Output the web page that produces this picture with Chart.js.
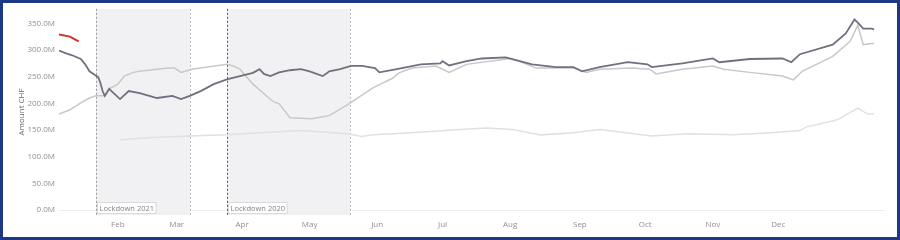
<!DOCTYPE html>
<html>
<head>
<meta charset="utf-8">
<script src="https://cdn.jsdelivr.net/npm/chart.js@4"></script>
<style>
  html, body { margin: 0; padding: 0; background: #fff; }
  #wrap { position: relative; width: 900px; height: 240px; }
  #frame { position: absolute; left: 0; top: 0; width: 900px; height: 240px; box-sizing: border-box; border: 3px solid #1c3786; pointer-events: none; }
</style>
</head>
<body>
<div id="wrap">
  <canvas id="c" width="900" height="240"></canvas>
  <div id="frame"></div>
</div>
<script>
// x = day of the year, y = amount in M CHF

const monthLabels = ['Feb', 'Mar', 'Apr', 'May', 'Jun', 'Jul', 'Aug', 'Sep', 'Oct', 'Nov', 'Dec']
const monthDays = [27, 54, 84, 115, 146, 176, 207, 239, 269, 300, 330]
const yTicks = [0, 50, 100, 150, 200, 250, 300, 350]

const lockNames = ['Lockdown 2021', 'Lockdown 2020']
const lockStart = [17, 77]
const lockEnd = [60, 133.5]

// dark line (2021)
const darkDays = [0, 3, 6, 10, 12, 14, 16.5, 18, 19, 20, 21, 23, 28, 32, 37, 45, 52, 56, 60, 65, 71, 77, 83, 89, 92, 94, 97, 101, 106, 111, 115, 121, 123, 124, 129, 134, 139, 145, 147, 155, 166, 175, 176, 179, 187, 194, 205, 208, 217, 228, 236, 240, 248, 261, 270, 272, 286, 300, 303, 317, 332, 336, 340, 355, 361, 365, 366.5, 369, 373, 374]
const darkVals = [299, 294, 290, 283, 273, 260, 253, 249, 238, 223, 214, 227, 208, 223, 219, 210, 214, 208, 214, 223, 236, 245, 251, 257, 264, 255, 251, 258, 262, 264, 260, 251, 257, 260, 264, 270, 270, 266, 258, 264, 273, 275, 279, 271, 279, 284, 286, 283, 273, 268, 268, 260, 268, 277, 273, 268, 275, 284, 277, 283, 284, 277, 292, 310, 331, 357, 351, 340, 340, 338]

// light line (2020)
const lightDays = [0, 5, 10, 14, 17, 21, 23, 27, 30, 34, 37, 50, 53, 56, 61, 77, 80, 83, 89, 98, 101, 106, 116, 124, 133, 144, 153, 156, 162, 173, 179, 187, 207, 211, 219, 236, 242, 248, 263, 271, 274, 286, 300, 305, 317, 332, 337, 341, 355, 363, 366.5, 369, 373, 374]
const lightVals = [180, 188, 201, 210, 214, 214, 227, 236, 251, 258, 260, 266, 266, 258, 264, 273, 270, 264, 236, 204, 199, 173, 171, 177, 199, 229, 247, 257, 266, 270, 258, 273, 284, 279, 266, 266, 258, 264, 266, 264, 255, 264, 270, 264, 258, 251, 244, 260, 288, 316, 346, 310, 312, 312]

// lowest line
const lowDays = [28, 42, 60, 77, 92, 111, 120, 132, 139, 144, 162, 184, 196, 208, 221, 236, 248, 272, 289, 309, 327, 340, 343, 355, 358, 366.5, 371, 374]
const lowVals = [132, 136, 139, 141, 145, 149, 147, 143, 138, 141, 145, 151, 154, 151, 141, 145, 151, 139, 143, 141, 145, 149, 156, 167, 171, 191, 180, 180]

// red start
const redDays = [0, 5, 9]
const redVals = [329, 325, 316]

function pts(days, vals) {
  return days.map((d, i) => ({ x: d, y: vals[i] }))
}

const lockdownPlugin = {
  id: 'lockdowns',
  beforeDatasetsDraw(chart) {
    const ctx = chart.ctx
    const area = chart.chartArea
    const xs = chart.scales.x
    ctx.save()
    for (let i = 0; i < lockNames.length; i++) {
      const x0 = xs.getPixelForValue(lockStart[i])
      const x1 = xs.getPixelForValue(lockEnd[i])
      ctx.fillStyle = '#f1f1f3'
      ctx.fillRect(x0, area.top, x1 - x0, area.bottom - area.top)
      ctx.setLineDash([2, 2])
      ctx.lineWidth = 1
      ctx.strokeStyle = i == 0 ? '#9a9a9a' : '#555'
      ctx.beginPath()
      ctx.moveTo(Math.round(x0) + 0.5, area.top)
      ctx.lineTo(Math.round(x0) + 0.5, area.bottom)
      ctx.stroke()
      ctx.strokeStyle = '#b8b8b8'
      ctx.beginPath()
      ctx.moveTo(Math.round(x1) + 0.5, area.top)
      ctx.lineTo(Math.round(x1) + 0.5, area.bottom)
      ctx.stroke()
      ctx.setLineDash([])
      // label box
      ctx.font = '7.5px "Open Sans"'
      const w = ctx.measureText(lockNames[i]).width + 4
      ctx.fillStyle = '#fff'
      ctx.fillRect(Math.round(x0) + 1.5, area.bottom - 12, w, 11)
      ctx.strokeStyle = '#dadada'
      ctx.strokeRect(Math.round(x0) + 1.5, area.bottom - 12.5, w, 11)
      ctx.fillStyle = '#808080'
      ctx.textBaseline = 'middle'
      ctx.fillText(lockNames[i], Math.round(x0) + 3.5, area.bottom - 6.5)
    }
    ctx.restore()
  }
}

new Chart(document.getElementById('c'), {
  type: 'line',
  data: {
    datasets: [
      { data: pts(redDays, redVals), borderColor: '#d9312b', borderWidth: 2 },
      { data: pts(darkDays, darkVals), borderColor: '#70717f', borderWidth: 1.8 },
      { data: pts(lightDays, lightVals), borderColor: '#c8c8c8', borderWidth: 1.5 },
      { data: pts(lowDays, lowVals), borderColor: '#e0e0e0', borderWidth: 1.5 }
    ]
  },
  options: {
    responsive: false,
    animation: false,
    layout: { padding: { top: 7, right: 15, left: 0, bottom: 0 } },
    elements: { point: { radius: 0 }, line: { tension: 0, fill: false } },
    plugins: { legend: { display: false }, tooltip: { enabled: false } },
    scales: {
      x: {
        type: 'linear',
        min: 0,
        max: 379,
        afterFit: s => { s.height = 25 },
        afterBuildTicks: s => { s.ticks = monthDays.map(v => ({ value: v })) },
        grid: { display: false, drawTicks: false },
        border: { display: false },
        ticks: {
          autoSkip: false,
          maxRotation: 0,
          padding: 5,
          color: '#909090',
          font: { family: 'Open Sans', size: 8 },
          callback: (v, i) => monthLabels[i]
        }
      },
      y: {
        min: -9,
        max: 377,
        afterFit: s => { s.width = 59 },
        afterBuildTicks: s => { s.ticks = yTicks.map(v => ({ value: v })) },
        grid: {
          drawTicks: false,
          color: c => (c.tick && c.tick.value === 0 ? '#ededed' : 'rgba(0,0,0,0)')
        },
        border: { display: false },
        title: {
          display: true,
          text: 'Amount CHF',
          color: '#666',
          font: { family: 'Open Sans', size: 8 },
          padding: { top: 17, bottom: 0 }
        },
        ticks: {
          padding: 4,
          color: '#909090',
          font: { family: 'Open Sans', size: 8 },
          callback: v => v.toFixed(1) + 'M'
        }
      }
    }
  },
  plugins: [lockdownPlugin]
})
</script>
</body>
</html>
